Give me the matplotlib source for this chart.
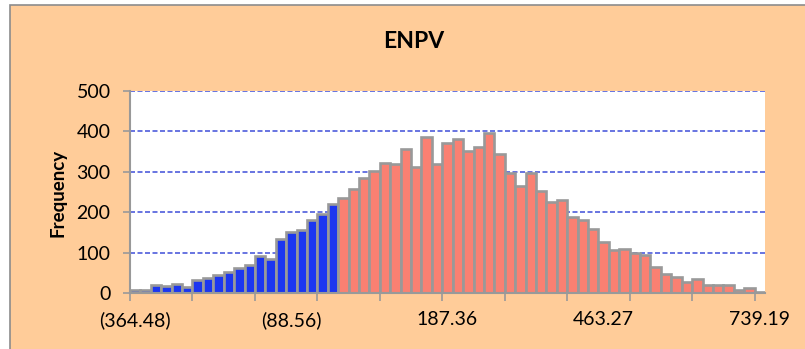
import matplotlib.pyplot as plt
import matplotlib.patches as patches
import numpy as np

# Frequency per ENPV bin (61 bins)
frequency = [9, 9, 20, 17, 22, 15, 34, 37, 45, 52,
             63, 70, 92, 85, 135, 151, 157, 180, 196, 220,
             234, 258, 284, 301, 321, 318, 357, 311, 386, 318,
             371, 381, 351, 362, 395, 343, 297, 264, 297, 252,
             226, 230, 189, 181, 159, 126, 107, 109, 99, 94,
             65, 47, 39, 28, 35, 20, 20, 20, 7, 13,
             4]
n_negative = 20  # first bins are below zero ENPV
label_bins = [0, 15, 30, 45, 60]
tick_labels = ['(364.48)', '(88.56)', '187.36', '463.27', '739.19']

BG = '#FFCC99'
BLUE = '#1C36F0'
SALMON = '#FA8072'
EDGE = '#999999'
GRID = '#2F3FD6'

plt.rcParams['font.family'] = ['Lato', 'DejaVu Sans']

fig = plt.figure(figsize=(8.05, 3.49), dpi=100)
fig.patch.set_facecolor('white')
fig.patches.append(patches.Rectangle((10 / 805, -0.2), 1.2, 1.2 - 5 / 349 + 0.0,
                                     transform=fig.transFigure, facecolor=BG,
                                     edgecolor='#8C8C8C', linewidth=1.2, zorder=-10))

ax = fig.add_axes([130 / 805, 1 - 293.3 / 349, 635 / 805, (293.3 - 90.7) / 349])
ax.set_facecolor('white')

index = np.arange(len(frequency))
colors = [BLUE if i < n_negative else SALMON for i in index]
ax.bar(index, frequency, width=1.0, color=colors, edgecolor=EDGE, linewidth=1.9, zorder=3)

ax.set_xlim(-0.5, len(frequency) - 0.5)
ax.set_ylim(0, 500)

# gridlines
for y in range(100, 501, 100):
    ax.axhline(y, color=GRID, linewidth=1.2, linestyle=(0, (3, 1.5)), zorder=1, alpha=0.85)

ax.set_yticks(range(0, 501, 100))
ax.tick_params(axis='y', direction='out', length=5, width=1.2, color=EDGE,
               labelsize=14, pad=9)

ax.set_xticks(np.arange(-0.5, len(frequency), 6))
ax.set_xticklabels([])
ax.set_xticks(label_bins, minor=True)
ax.set_xticklabels(tick_labels, minor=True)
ax.tick_params(axis='x', which='major', direction='out', length=6, width=1.2, color=EDGE)
ax.tick_params(axis='x', which='minor', length=0, labelsize=14, pad=13)

for side in ['top', 'right']:
    ax.spines[side].set_visible(False)
for side in ['left', 'bottom']:
    ax.spines[side].set_color(EDGE)
    ax.spines[side].set_linewidth(1.5)
    ax.spines[side].set_zorder(4)

fig.text(413.5 / 805, 1 - 41.7 / 349, 'ENPV', ha='center', va='center',
         fontsize=16.5, fontweight='bold')
fig.text(58.3 / 805, 1 - 193 / 349, 'Frequency', ha='center', va='center',
         rotation=90, fontsize=13.5, fontweight='bold')

fig.savefig('out.png', dpi=100, facecolor=fig.get_facecolor())
